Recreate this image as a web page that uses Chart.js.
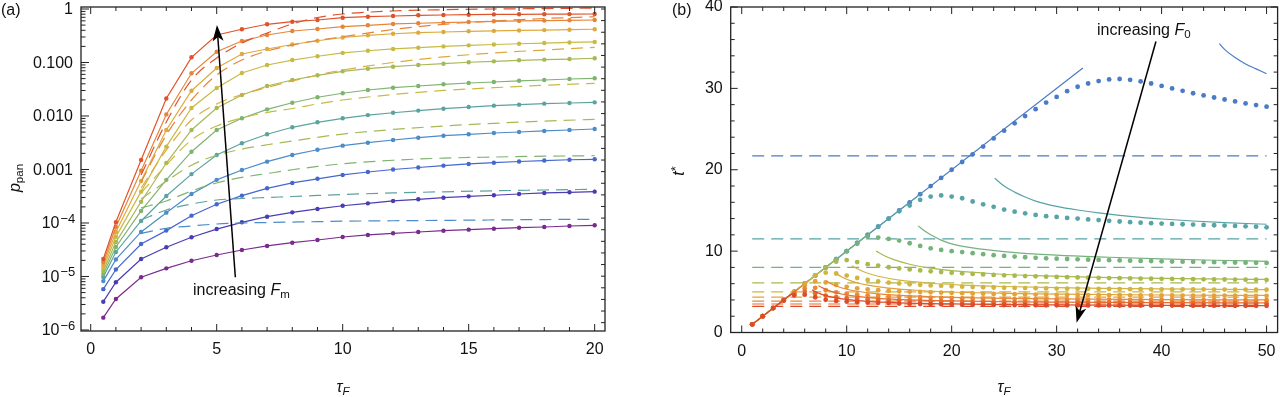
<!DOCTYPE html>
<html><head><meta charset="utf-8">
<script src="https://cdn.jsdelivr.net/npm/chart.js@4.4.1/dist/chart.umd.min.js"></script>
<style>
html,body{margin:0;padding:0;background:#fff;width:1280px;height:397px;overflow:hidden;font-family:"Liberation Sans",Arial,sans-serif;color:#111}
#wrap{position:relative;width:1280px;height:397px}
canvas{position:absolute;top:0}
.lbl{position:absolute;font-size:16px;white-space:nowrap;line-height:16px;z-index:5}
.c{transform:translate(-50%,-50%)}
.rot{transform:translate(-50%,-50%) rotate(-90deg)}
sub{font-size:0.72em;vertical-align:-0.3em;line-height:0}
sup{font-size:0.8em;vertical-align:0.35em;line-height:0}
</style></head>
<body>
<div id="wrap">
<canvas id="ca" width="640" height="397" style="left:0"></canvas>
<canvas id="cb" width="640" height="397" style="left:640px"></canvas>
<div class="lbl" style="left:1px;top:2px">(a)</div>
<div class="lbl" style="left:672px;top:2px">(b)</div>
<div class="lbl rot" style="left:15px;top:178px"><i>p</i><sub>pan</sub></div>
<div class="lbl rot" style="left:679px;top:171px"><i>t</i><sup>*</sup></div>
<div class="lbl c" style="left:343px;top:387px"><i>τ</i><sub><i>F</i></sub></div>
<div class="lbl c" style="left:1004px;top:387px"><i>τ</i><sub><i>F</i></sub></div>
<div class="lbl" style="left:193px;top:282px">increasing <i>F</i><sub>m</sub></div>
<div class="lbl" style="left:1097px;top:22px">increasing <i>F</i><sub>0</sub></div>
</div>
<script>
// ---------------- panel (a) data ----------------
const tauA = [0.5,1,2,3,4,5,6,7,8,9,10,11,12,13,14,15,16,17,18,19,20];
const pPan1  = [1.70e-6,3.8e-6,9.7e-6,1.42e-5,1.97e-5,2.52e-5,3.13e-5,3.72e-5,4.28e-5,4.81e-5,5.47e-5,5.97e-5,6.41e-5,6.79e-5,7.18e-5,7.5e-5,7.82e-5,8.17e-5,8.42e-5,8.79e-5,9.06e-5];
const pPan2  = [3.38e-6,7.8e-6,2.12e-5,3.52e-5,5.4e-5,7.7e-5,1.03e-4,1.31e-4,1.58e-4,1.83e-4,2.10e-4,2.33e-4,2.58e-4,2.77e-4,2.97e-4,3.15e-4,3.30e-4,3.48e-4,3.64e-4,3.75e-4,3.85e-4];
const pPan3  = [5.8e-6,1.35e-5,4.05e-5,7.2e-5,1.37e-4,2.24e-4,3.24e-4,4.45e-4,5.6e-4,6.7e-4,7.9e-4,8.98e-4,1.0e-3,1.09e-3,1.18e-3,1.27e-3,1.34e-3,1.41e-3,1.47e-3,1.52e-3,1.55e-3];
const pPan4  = [8.2e-6,2.08e-5,6.8e-5,1.56e-4,3.48e-4,6.4e-4,9.8e-4,1.40e-3,1.87e-3,2.34e-3,2.79e-3,3.17e-3,3.56e-3,3.93e-3,4.28e-3,4.55e-3,4.81e-3,5.02e-3,5.25e-3,5.47e-3,5.71e-3];
const pPan5  = [9.8e-6,2.87e-5,1.09e-4,3.2e-4,8.2e-4,1.87e-3,3.09e-3,4.55e-3,6.15e-3,7.62e-3,9.06e-3,0.0104,0.0115,0.0126,0.0137,0.0147,0.0156,0.0163,0.0170,0.0175,0.0180];
const pPan6  = [1.11e-5,3.56e-5,1.68e-4,6.4e-4,2.15e-3,5.47e-3,9.06e-3,0.0133,0.0177,0.0224,0.0266,0.0306,0.0338,0.0364,0.0391,0.0414,0.0432,0.0455,0.0471,0.0492,0.0507];
const pPan7  = [1.27e-5,4.4e-5,2.5e-4,1.32e-3,5.47e-3,0.0141,0.0247,0.0364,0.0471,0.0576,0.0685,0.0766,0.0835,0.0898,0.0950,0.101,0.105,0.110,0.113,0.116,0.120];
const pPan8  = [1.44e-5,5.5e-5,3.85e-4,2.67e-3,0.0141,0.0334,0.0637,0.0898,0.111,0.131,0.151,0.166,0.179,0.189,0.200,0.209,0.217,0.224,0.231,0.237,0.242];
const pPan9  = [1.64e-5,6.8e-5,6.1e-4,5.47e-3,0.0297,0.0789,0.144,0.179,0.217,0.255,0.293,0.322,0.345,0.361,0.372,0.383,0.390,0.397,0.403,0.410,0.418];
const pPan10 = [1.87e-5,8.4e-5,9.5e-4,0.0107,0.0628,0.159,0.252,0.327,0.388,0.423,0.467,0.496,0.525,0.541,0.555,0.571,0.589,0.599,0.607,0.615,0.623];
const pPan11 = [2.12e-5,1.04e-4,1.51e-3,0.0212,0.125,0.327,0.418,0.518,0.579,0.623,0.688,0.718,0.740,0.762,0.772,0.782,0.793,0.796,0.799,0.803,0.806];
const pPanSeries = [pPan1,pPan2,pPan3,pPan4,pPan5,pPan6,pPan7,pPan8,pPan9,pPan10,pPan11];

const tauApprox = [2,3,4,5,6,7,8,9,10,12,14,16,18,20];
const approx4  = [6.4e-5,7.96e-5,8.79e-5,9.58e-5,1.0e-4,1.02e-4,1.04e-4,1.06e-4,1.08e-4,1.10e-4,1.12e-4,1.14e-4,1.16e-4,1.17e-4];
const approx5  = [1.14e-4,1.75e-4,2.26e-4,2.69e-4,2.87e-4,3.0e-4,3.13e-4,3.27e-4,3.41e-4,3.64e-4,3.83e-4,4.0e-4,4.14e-4,4.27e-4];
const approx6  = [1.91e-4,2.58e-4,3.96e-4,5.6e-4,7.1e-4,8.4e-4,9.9e-4,1.14e-3,1.28e-3,1.49e-3,1.63e-3,1.71e-3,1.77e-3,1.81e-3];
const approx7  = [2.81e-4,6.0e-4,1.2e-3,1.85e-3,2.4e-3,2.9e-3,3.4e-3,4.0e-3,4.6e-3,5.6e-3,6.5e-3,7.3e-3,8.0e-3,8.67e-3];
const approx8  = [3.64e-4,1.21e-3,3.56e-3,6.5e-3,9.2e-3,0.0116,0.0138,0.0168,0.0199,0.0252,0.0300,0.0338,0.0375,0.0408];
const approx9  = [4.5e-4,2.31e-3,8.4e-3,0.0168,0.0252,0.0341,0.0451,0.0584,0.0724,0.1,0.127,0.151,0.171,0.192];
const approx10 = [5.8e-4,4.42e-3,0.0199,0.0584,0.111,0.164,0.212,0.258,0.303,0.414,0.518,0.597,0.664,0.718];
const approx11 = [7.9e-4,7.7e-3,0.0471,0.121,0.231,0.356,0.525,0.694,0.806,0.918,0.970,1.0,1.02,1.04];
const approxSeries = [approx4,approx5,approx6,approx7,approx8,approx9,approx10,approx11];
const approxColorIdx = [3,4,5,6,7,8,9,10];

const xTicksA = [0,5,10,15,20];
const yTicksA = [1e-6,1e-5,1e-4,1e-3,1e-2,1e-1,1];
const yLabelsA = ['10^\u22126','10^\u22125','10^\u22124','0.001','0.010','0.100','1'];

// ---------------- panel (b) data ----------------
const tauB = [1,2,3,4,5,6,7,8,9,10,11,12,13,14,15,16,17,18,19,20,21,22,23,24,25,26,27,28,29,30,31,32,33,34,35,36,37,38,39,40,41,42,43,44,45,46,47,48,49,50];
const tStar1 = [1,2,3,4,5,6,7,8,9,10,11,12,13,14,15,16,17,18,19,20,20.95,21.9,22.85,23.85,24.8,25.7,26.6,27.45,28.25,28.95,29.65,30.2,30.6,30.9,31.1,31.15,31.05,30.85,30.6,30.3,30.0,29.7,29.4,29.13,28.88,28.63,28.4,28.15,27.95,27.75];
const tStar2 = [1,2,3,4,5,6,7,8,9,10,11,12,13,14,14.9,15.6,16.3,16.7,16.85,16.7,16.5,16.1,15.75,15.45,15.1,14.85,14.65,14.45,14.3,14.2,14.08,14.0,13.9,13.82,13.72,13.64,13.56,13.5,13.44,13.38,13.34,13.3,13.26,13.22,13.18,13.14,13.1,13.05,13.0,12.92];
const tStar3 = [1,2,3,4,5,6,7,8,9,10,10.9,11.8,11.66,11.5,11.3,10.97,10.64,10.35,10.15,10.0,9.88,9.75,9.62,9.5,9.41,9.33,9.25,9.18,9.12,9.07,9.03,8.99,8.95,8.92,8.89,8.86,8.83,8.8,8.78,8.75,8.72,8.7,8.68,8.66,8.64,8.62,8.6,8.58,8.56,8.55];
const tStar4 = [1,2,3,4,5,6,7,8,8.7,8.9,8.65,8.4,8.2,8.02,7.88,7.75,7.63,7.52,7.42,7.34,7.27,7.2,7.14,7.08,7.03,6.98,6.94,6.9,6.86,6.83,6.8,6.77,6.74,6.72,6.69,6.67,6.65,6.63,6.61,6.6,6.58,6.57,6.55,6.54,6.52,6.51,6.5,6.49,6.48,6.47];
const tStar5 = [1,2,3,4,5,6,7,7.35,7.25,7.0,6.7,6.45,6.27,6.13,6.03,5.93,5.86,5.79,5.73,5.68,5.63,5.59,5.56,5.53,5.5,5.48,5.46,5.44,5.42,5.40,5.39,5.38,5.37,5.36,5.35,5.34,5.33,5.32,5.31,5.31,5.30,5.30,5.29,5.29,5.28,5.28,5.27,5.27,5.27,5.26];
const tStar6 = [1,2,3,4,4.96,5.8,6.3,6.15,5.85,5.61,5.43,5.31,5.20,5.13,5.07,5.02,4.98,4.94,4.91,4.86,4.83,4.79,4.77,4.74,4.72,4.70,4.68,4.66,4.65,4.63,4.62,4.61,4.60,4.59,4.58,4.575,4.57,4.56,4.555,4.55,4.545,4.54,4.535,4.53,4.525,4.52,4.515,4.51,4.51,4.505];
const tStar7 = [1,2,3,4,4.85,5.42,5.49,5.19,4.94,4.77,4.65,4.57,4.50,4.45,4.41,4.37,4.34,4.29,4.26,4.23,4.20,4.18,4.16,4.14,4.12,4.11,4.10,4.085,4.08,4.07,4.06,4.05,4.045,4.04,4.03,4.025,4.02,4.015,4.01,4.005,4.0,4.0,3.995,3.99,3.99,3.985,3.98,3.98,3.975,3.97];
const tStar8 = [1,2,3,3.97,4.71,5.02,4.81,4.53,4.35,4.23,4.15,4.08,4.03,3.99,3.96,3.91,3.88,3.85,3.82,3.80,3.78,3.76,3.745,3.73,3.72,3.71,3.70,3.69,3.68,3.68,3.67,3.66,3.66,3.65,3.65,3.645,3.64,3.64,3.635,3.63,3.63,3.625,3.62,3.62,3.615,3.61,3.61,3.61,3.605,3.60];
const tStar9 = [1,2,3,3.91,4.55,4.65,4.33,4.01,3.88,3.80,3.73,3.68,3.65,3.61,3.56,3.53,3.50,3.48,3.46,3.44,3.42,3.41,3.40,3.39,3.38,3.37,3.36,3.36,3.35,3.35,3.34,3.34,3.33,3.33,3.33,3.32,3.32,3.32,3.31,3.31,3.31,3.31,3.30,3.30,3.30,3.30,3.29,3.29,3.29,3.29];
const tStarSeries = [tStar1,tStar2,tStar3,tStar4,tStar5,tStar6,tStar7,tStar8,tStar9];

const asym = [21.7,11.5,8.0,6.1,5.0,4.35,3.85,3.5,3.2];
const diagEnd = [32.5,17.25,12,9.15,7.5,6.5,5.8,5.25,4.8];

const longTau1 = [45.5,46,47,48,49,50];
const long1    = [35.5,34.8,33.8,33.0,32.4,31.8];
const longTau2 = [24.1,25,26,27,28,30,32,34,36,38,40,43,46,50];
const long2    = [18.95,18.0,17.25,16.65,16.15,15.5,15.05,14.7,14.4,14.15,13.95,13.7,13.5,13.3];
const longTau3 = [16.8,17.5,18,19,20,22,25,30,35,40,45,50];
const long3    = [13.1,12.4,12.0,11.35,10.9,10.4,9.95,9.5,9.25,9.05,8.88,8.75];
const longTau4 = [12.8,13.5,14.5,16,18,20,24,28,34,40,45,50];
const long4    = [10.0,9.5,8.95,8.39,7.91,7.6,7.22,6.99,6.78,6.65,6.58,6.52];
const longTau5 = [10.5,11,12,13,15,18,21,25,30,35,40,45,50];
const long5    = [8.2,7.83,7.28,6.91,6.44,6.05,5.83,5.65,5.51,5.42,5.35,5.31,5.27];
const longTau6 = [9.1,9.5,10,11,12,14,17,20,25,30,40,50];
const long6    = [7.15,6.86,6.55,6.11,5.82,5.46,5.16,4.98,4.82,4.72,4.61,4.55];
const longTau7 = [8.05,8.5,9,10,11,13,16,20,25,30,40,50];
const long7    = [6.35,6.01,5.72,5.32,5.07,4.75,4.50,4.32,4.2,4.13,4.05,4.01];
const longTau8 = [7.3,7.7,8.5,9.5,11,13,16,20,25,30,40,50];
const long8    = [5.75,5.48,5.05,4.73,4.43,4.2,4.01,3.88,3.78,3.73,3.66,3.63];
const longTau9 = [6.7,7,7.5,8.5,10,12,15,20,25,30,40,50];
const long9    = [5.25,5.03,4.75,4.37,4.06,3.83,3.65,3.51,3.43,3.39,3.34,3.31];
const longTauSeries = [longTau1,longTau2,longTau3,longTau4,longTau5,longTau6,longTau7,longTau8,longTau9];
const longSeries = [long1,long2,long3,long4,long5,long6,long7,long8,long9];

const xTicksB = [0,10,20,30,40,50];
const yTicksB = [0,10,20,30,40];

// ---------------- styling ----------------
const colorsA = ['#7a2b8e','#4a3db3','#4567cf','#4d8cc8','#5ca3a0','#7fb370','#a6b955','#c9ba44','#deaa3e','#e7843a','#df532c'];
const colorsB = ['#4a7bc6','#57a3a6','#76b27c','#a9b94d','#d2b541','#e2a33c','#e88a38','#e56b30','#dd4b2a'];
const FAMILY = '"Liberation Sans", Arial, sans-serif';
const FONT = {family:FAMILY, size:16};
const pts = (xs, ys) => xs.map((x,i)=>({x:x, y:ys[i]}));

function drawArrow(ctx, x0, y0, x1, y1, L, W) {
  const a = Math.atan2(y1-y0, x1-x0);
  const c = Math.cos(a), s = Math.sin(a);
  const bx = x1 - L*c, by = y1 - L*s;
  ctx.beginPath(); ctx.moveTo(x0,y0); ctx.lineTo(x1 - (L*0.6)*c, y1 - (L*0.6)*s); ctx.stroke();
  ctx.beginPath();
  ctx.moveTo(x1,y1);
  ctx.lineTo(bx + W/2*s, by - W/2*c);
  ctx.lineTo(x1 - L*0.75*c, y1 - L*0.75*s);
  ctx.lineTo(bx - W/2*s, by + W/2*c);
  ctx.closePath(); ctx.fill();
}

// ---------------- chart (a) ----------------
const dsA = [];
approxSeries.forEach((arr, k) => {
  const col = colorsA[approxColorIdx[k]];
  dsA.unshift({data: pts(tauApprox, arr), showLine:true, borderColor:col, backgroundColor:col,
    borderWidth:1.2, borderDash:[12,7], pointRadius:0, cubicInterpolationMode:'monotone'});
});
const solidA = [];
pPanSeries.forEach((arr, k) => {
  solidA.unshift({data: pts(tauA, arr), showLine:true, borderColor:colorsA[k], backgroundColor:colorsA[k],
    borderWidth:1.2, pointRadius:2.2, pointBorderWidth:0, pointHoverRadius:0, tension:0});
});
const datasetsA = dsA.concat(solidA);

const frameA = {
  id:'frameA',
  afterDatasetsDraw(chart) {
    const {ctx, chartArea:a, scales:{x, y}} = chart;
    ctx.save();
    ctx.strokeStyle = '#222'; ctx.lineWidth = 1;
    ctx.beginPath();
    for (let v = 0; v <= 20; v++) {
      const p = x.getPixelForValue(v);
      const L = v % 5 === 0 ? 7 : 4;
      ctx.moveTo(p, a.bottom); ctx.lineTo(p, a.bottom - L);
      ctx.moveTo(p, a.top); ctx.lineTo(p, a.top + L);
    }
    for (let e = -6; e <= 0; e++) {
      const p = y.getPixelForValue(Math.pow(10, e));
      ctx.moveTo(a.left, p); ctx.lineTo(a.left + 8, p);
      if (e < 0) for (let m = 2; m <= 9; m++) {
        const q = y.getPixelForValue(m*Math.pow(10, e));
        ctx.moveTo(a.left, q); ctx.lineTo(a.left + 4.5, q);
      }
    }
    for (let k = 0; k <= 27; k++) {
      const p = y.getPixelForValue(Math.exp(-k/2));
      ctx.moveTo(a.right, p); ctx.lineTo(a.right - 4, p);
    }
    ctx.stroke();
    ctx.lineWidth = 1.3;
    ctx.strokeRect(a.left, a.top, a.right - a.left, a.bottom - a.top);
    // y tick labels with true superscripts
    ctx.fillStyle = '#111'; ctx.textBaseline = 'middle';
    yTicksA.forEach((v, i) => {
      const p = y.getPixelForValue(v);
      const lab = yLabelsA[i];
      if (lab.indexOf('^') >= 0) {
        const parts = lab.split('^');
        ctx.font = '16px ' + FAMILY; ctx.textAlign = 'right';
        ctx.fillText(parts[0], a.left - 21.5, p + 1);
        ctx.font = '13px ' + FAMILY; ctx.textAlign = 'left';
        ctx.fillText(parts[1], a.left - 20.5, p - 4);
      } else {
        ctx.font = '16px ' + FAMILY; ctx.textAlign = 'right';
        ctx.fillText(lab, a.left - 8, p + 1);
      }
    });
    // arrow
    ctx.strokeStyle = '#000'; ctx.fillStyle = '#000'; ctx.lineWidth = 1.5;
    drawArrow(ctx, x.getPixelForValue(5.74), y.getPixelForValue(9.7e-6),
              x.getPixelForValue(5.01), y.getPixelForValue(0.50), 16, 11);
    ctx.restore();
  }
};

new Chart(document.getElementById('ca'), {
  type:'scatter',
  data:{datasets: datasetsA},
  options:{
    responsive:false, animation:false, devicePixelRatio:1, events:[],
    layout:{padding:{left:0, right:35, top:7, bottom:0}},
    plugins:{legend:{display:false}, tooltip:{enabled:false}},
    scales:{
      x:{type:'linear', min:-0.385, max:20.41,
         grid:{display:false, drawTicks:false}, border:{display:false},
         ticks:{font:FONT, color:'#111', padding:9, maxRotation:0},
         afterBuildTicks:s=>{ s.ticks = xTicksA.map(v=>({value:v})); },
         afterFit:s=>{ s.height = 66; s.paddingLeft = 0; s.paddingRight = 0; }},
      y:{type:'logarithmic', min:9.57e-7, max:1.09,
         grid:{display:false, drawTicks:false}, border:{display:false},
         ticks:{display:false},
         afterBuildTicks:s=>{ s.ticks = yTicksA.map(v=>({value:v})); },
         afterFit:s=>{ s.width = 81; s.paddingTop = 0; s.paddingBottom = 0; }}
    }
  },
  plugins:[frameA]
});

// ---------------- chart (b) ----------------
const datasetsB = [];
for (let k = tStarSeries.length - 1; k >= 0; k--) {
  const col = colorsB[k];
  datasetsB.push({data:[{x:1,y:1},{x:diagEnd[k],y:diagEnd[k]}], showLine:true, borderColor:col, backgroundColor:col, borderWidth:1.2, pointRadius:0});
  datasetsB.push({data:pts(tauB, tStarSeries[k]), showLine:false, backgroundColor:col, borderColor:col, pointRadius:2.4, pointBorderWidth:0, pointHoverRadius:0});
  datasetsB.push({data:pts(longTauSeries[k], longSeries[k]), showLine:true, borderColor:col, backgroundColor:col, borderWidth:1.2, pointRadius:0, cubicInterpolationMode:'monotone'});
  datasetsB.push({data:[{x:1,y:asym[k]},{x:50,y:asym[k]}], showLine:true, borderColor:col, backgroundColor:col, borderWidth:1.2, borderDash:[12,7], pointRadius:0});
}

const frameB = {
  id:'frameB',
  afterDatasetsDraw(chart) {
    const {ctx, chartArea:a, scales:{x, y}} = chart;
    ctx.save();
    ctx.strokeStyle = '#222'; ctx.lineWidth = 1;
    ctx.beginPath();
    for (let v = 0; v <= 50; v += 2) {
      const p = x.getPixelForValue(v);
      const L = v % 10 === 0 ? 7 : 4;
      ctx.moveTo(p, a.bottom); ctx.lineTo(p, a.bottom - L);
      ctx.moveTo(p, a.top); ctx.lineTo(p, a.top + L);
    }
    for (let v = 0; v <= 40; v += 2) {
      const p = y.getPixelForValue(v);
      const L = v % 10 === 0 ? 7 : 4;
      ctx.moveTo(a.left, p); ctx.lineTo(a.left + L, p);
      ctx.moveTo(a.right, p); ctx.lineTo(a.right - L, p);
    }
    ctx.stroke();
    ctx.lineWidth = 1.3;
    ctx.strokeRect(a.left, a.top, a.right - a.left, a.bottom - a.top);
    ctx.strokeStyle = '#000'; ctx.fillStyle = '#000'; ctx.lineWidth = 1.5;
    drawArrow(ctx, x.getPixelForValue(39.46), y.getPixelForValue(35.77),
              x.getPixelForValue(31.9), y.getPixelForValue(1.2), 16, 11);
    ctx.restore();
  }
};

new Chart(document.getElementById('cb'), {
  type:'scatter',
  data:{datasets: datasetsB},
  options:{
    responsive:false, animation:false, devicePixelRatio:1, events:[],
    layout:{padding:{left:0, right:2.3, top:7, bottom:0}},
    plugins:{legend:{display:false}, tooltip:{enabled:false}},
    scales:{
      x:{type:'linear', min:-1.05, max:51.05,
         grid:{display:false, drawTicks:false}, border:{display:false},
         ticks:{font:FONT, color:'#111', padding:9, maxRotation:0},
         afterBuildTicks:s=>{ s.ticks = xTicksB.map(v=>({value:v})); },
         afterFit:s=>{ s.height = 64.5; s.paddingLeft = 0; s.paddingRight = 0; }},
      y:{type:'linear', min:0, max:40,
         grid:{display:false, drawTicks:false}, border:{display:false},
         ticks:{font:FONT, color:'#111', padding:8},
         afterBuildTicks:s=>{ s.ticks = yTicksB.map(v=>({value:v})); },
         afterFit:s=>{ s.width = 90.7; s.paddingTop = 0; s.paddingBottom = 0; }}
    }
  },
  plugins:[frameB]
});
</script>
</body></html>
